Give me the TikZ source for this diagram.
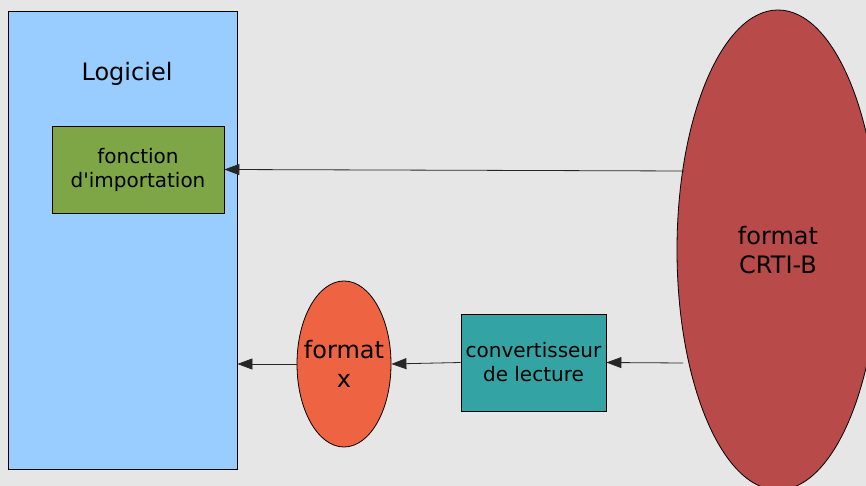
\documentclass[tikz,border=0pt]{standalone}
\usepackage{fontspec}
\setmainfont{DejaVu Sans}[Ligatures=TeXOff]
\usetikzlibrary{shapes.geometric,arrows.meta}
\definecolor{bg}{RGB}{230,230,230}
\definecolor{logblue}{RGB}{153,204,255}
\definecolor{fgreen}{RGB}{126,166,70}
\definecolor{crtired}{RGB}{184,74,74}
\definecolor{fxorange}{RGB}{238,99,66}
\definecolor{convteal}{RGB}{51,163,163}
\begin{document}
\begin{tikzpicture}[x=1pt,y=1pt,
  boxstyle/.style={draw=black,line width=0.8pt,inner sep=0pt},
  bigtext/.style={font=\fontsize{24}{29}\selectfont,align=center},
  smalltext/.style={font=\fontsize{20}{24}\selectfont,align=center},
  conn/.style={draw=black!85,line width=0.8pt,-{Triangle[length=15pt,width=11pt]}}]
\useasboundingbox (0,0) rectangle (866,486);
\fill[bg] (0,0) rectangle (866,486);
\clip (0,0) rectangle (866,486);
\node[boxstyle,fill=logblue,rectangle,minimum width=229pt,minimum height=458pt] (log) at (122.5,246) {};
\node[bigtext,anchor=base] (logt) at (127,405) {Logiciel};
\node[boxstyle,fill=fgreen,rectangle,minimum width=172pt,minimum height=87pt,smalltext] (imp) at (138,316.5) {fonction\\d'importation};
\node[boxstyle,fill=crtired,ellipse,minimum width=202pt,minimum height=480pt] (crti) at (778,236) {};
\node[bigtext] (crtit) at (crti.center) {format\\CRTI-B};
\node[boxstyle,fill=fxorange,ellipse,minimum width=94pt,minimum height=166pt] (fx) at (344,122) {};
\node[bigtext] (fxt) at (fx.center) {format\\x};
\node[boxstyle,fill=convteal,rectangle,minimum width=145pt,minimum height=97pt,smalltext] (conv) at (533.5,123.5) {convertisseur\\de lecture};
\coordinate (s1) at (684,315);
\coordinate (s2) at (683,123);
\draw[conn] (s1) -- (imp.east);
\draw[conn] (s2) -- (conv.east);
\draw[conn] (conv.west) -- (fx.east);
\draw[conn] (fx.west) -- (log.east |- fx.west);
\end{tikzpicture}
\end{document}
